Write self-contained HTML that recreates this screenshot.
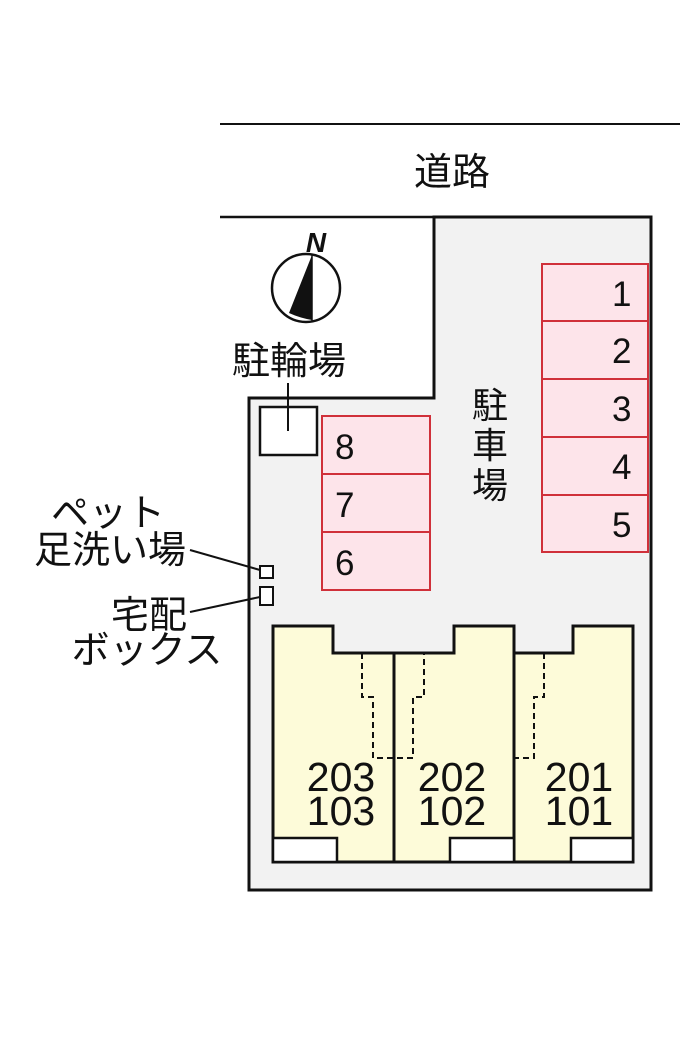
<!DOCTYPE html>
<html><head><meta charset="utf-8"><style>
html,body{margin:0;padding:0;background:#fff}
svg text{font-family:"Liberation Sans","Noto Sans CJK JP",sans-serif;fill:#111}
</style></head><body>
<svg width="700" height="1050" viewBox="0 0 700 1050" xmlns="http://www.w3.org/2000/svg">
<rect width="700" height="1050" fill="#fff"/>
<line x1="220" y1="124" x2="680" y2="124" stroke="#111" stroke-width="2"/>
<line x1="220" y1="217" x2="434" y2="217" stroke="#111" stroke-width="2.5"/>
<text x="452" y="185" font-size="38" text-anchor="middle">道路</text>
<path d="M434,217 H651 V890 H249 V398 H434 Z" fill="#f2f2f2" stroke="#111" stroke-width="3"/>
<circle cx="306" cy="288" r="34" fill="#fff" stroke="#111" stroke-width="2.5"/>
<path d="M312,255 L289,313 Q300,318 312,320 Z" fill="#111"/>
<line x1="312" y1="255" x2="312" y2="321" stroke="#111" stroke-width="1.5"/>
<text x="316" y="252" font-size="28" font-style="italic" font-weight="bold" text-anchor="middle">N</text>
<text x="289" y="374" font-size="38" text-anchor="middle">駐輪場</text>
<rect x="260" y="407" width="57" height="48" fill="#fff" stroke="#111" stroke-width="2.5"/>
<line x1="288" y1="383" x2="288" y2="431" stroke="#111" stroke-width="2"/>
<g fill="#fde4ea" stroke="#d0303a" stroke-width="2">
<rect x="322" y="416" width="108" height="58"/>
<rect x="322" y="474" width="108" height="58"/>
<rect x="322" y="532" width="108" height="58"/>
<rect x="542" y="264" width="106" height="57"/>
<rect x="542" y="321" width="106" height="58"/>
<rect x="542" y="379" width="106" height="58"/>
<rect x="542" y="437" width="106" height="58"/>
<rect x="542" y="495" width="106" height="57"/>
</g>
<g font-size="35">
<text x="335" y="459">8</text>
<text x="335" y="517">7</text>
<text x="335" y="575">6</text>
<text x="612" y="306">1</text>
<text x="612" y="363">2</text>
<text x="612" y="421">3</text>
<text x="612" y="479">4</text>
<text x="612" y="537">5</text>
</g>
<g font-size="36" text-anchor="middle">
<text x="490" y="418">駐</text>
<text x="490" y="458">車</text>
<text x="490" y="498">場</text>
</g>
<g font-size="38" text-anchor="middle">
<text x="108" y="526">ペット</text>
<text x="110" y="563">足洗い場</text>
<text x="149" y="628">宅配</text>
<text x="147" y="663">ボックス</text>
</g>
<rect x="260" y="566" width="13" height="12" fill="#fff" stroke="#111" stroke-width="2"/>
<rect x="260" y="587" width="13" height="18" fill="#fff" stroke="#111" stroke-width="2"/>
<line x1="190" y1="550" x2="260" y2="570" stroke="#111" stroke-width="2"/>
<line x1="190" y1="612" x2="260" y2="597" stroke="#111" stroke-width="2"/>
<path d="M273,626 H333 V653 H454 V626 H514 V653 H573 V626 H633 V862 H273 Z" fill="#fdfbd9" stroke="#111" stroke-width="3"/>
<line x1="394" y1="653" x2="394" y2="862" stroke="#111" stroke-width="3"/>
<line x1="514" y1="653" x2="514" y2="862" stroke="#111" stroke-width="3"/>
<g fill="#fff" stroke="#111" stroke-width="2.5">
<rect x="273" y="838" width="64" height="24"/>
<rect x="450" y="838" width="64" height="24"/>
<rect x="571" y="838" width="62" height="24"/>
</g>
<g fill="none" stroke="#111" stroke-width="2" stroke-dasharray="6,4">
<path d="M362,653 V697 H373 V758 H413 V697 H424 V653"/>
<path d="M544,653 V697 H534 V758 H514"/>
</g>
<g font-size="41" text-anchor="middle">
<text x="341" y="791">203</text>
<text x="341" y="825">103</text>
<text x="452" y="791">202</text>
<text x="452" y="825">102</text>
<text x="579" y="791">201</text>
<text x="579" y="825">101</text>
</g>
</svg>
</body></html>
